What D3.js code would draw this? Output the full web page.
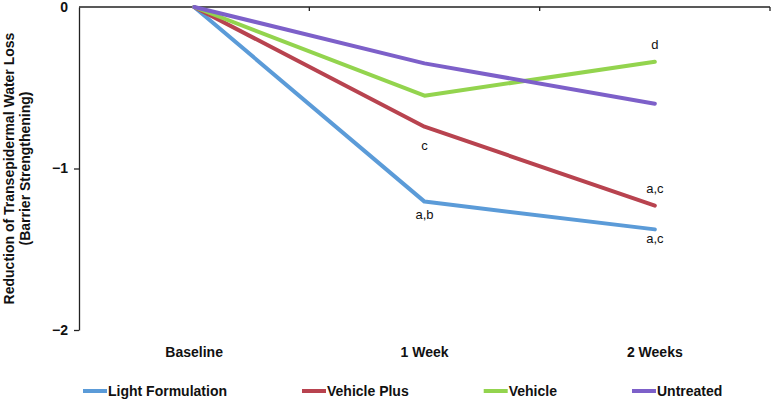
<!DOCTYPE html>
<html>
<head>
<meta charset="utf-8">
<script src="https://cdn.jsdelivr.net/npm/d3@7"></script>
<style>
  html, body { margin: 0; padding: 0; background: #fff; }
  svg { display: block; font-family: "Liberation Sans", Arial, Helvetica, sans-serif; }
</style>
</head>
<body>
<svg id="chart" width="772" height="402"></svg>
<script>
const categories = ["Baseline", "1 Week", "2 Weeks"];
const seriesNames = ["Light Formulation", "Vehicle Plus", "Vehicle", "Untreated"];
const lightFormulation = [0, -1.205, -1.377];
const vehiclePlus = [0, -0.741, -1.230];
const vehicle = [0, -0.549, -0.339];
const untreated = [0, -0.349, -0.599];
const seriesColors = ["#5b9bd8", "#b8434f", "#93d44e", "#7d60c9"];
const yTicks = [0, -1, -2];
const annotations = [
  { cat: "1 Week", value: -1.205, text: "a,b" },
  { cat: "1 Week", value: -0.741, text: "c" },
  { cat: "2 Weeks", value: -0.339, text: "d" },
  { cat: "2 Weeks", value: -1.230, text: "a,c" },
  { cat: "2 Weeks", value: -1.377, text: "a,c" }
];
const annotationOffsets = [17, 23, -13, -13, 14];

const seriesValues = [lightFormulation, vehiclePlus, vehicle, untreated];

const svg = d3.select("#chart");
const mLeft = 79, mRight = 770, mTop = 7, mBottom = 330;

const x = d3.scalePoint().domain(categories).range([mLeft, mRight]).padding(0.5);
const xBand = d3.scaleBand().domain(categories).range([mLeft, mRight]);
const y = d3.scaleLinear().domain([0, -2]).range([mTop, mBottom]);

// top category axis (at y = 0) with ticks at band edges
const axisG = svg.append("g").attr("stroke", "#222").attr("stroke-width", 1.3);
axisG.append("line").attr("x1", mLeft).attr("x2", mRight).attr("y1", y(0)).attr("y2", y(0));
axisG.selectAll("line.tick").data(categories).enter().append("line")
  .attr("class", "tick")
  .attr("x1", d => xBand(d) + xBand.bandwidth())
  .attr("x2", d => xBand(d) + xBand.bandwidth())
  .attr("y1", y(0)).attr("y2", y(0) + 4);

// left axis
const yAxis = d3.axisLeft(y).tickValues(yTicks).tickSize(5).tickSizeOuter(0).tickPadding(6)
  .tickFormat(d3.format("d"));
const yg = svg.append("g").attr("transform", `translate(${mLeft},0)`).call(yAxis);
yg.select(".domain").attr("stroke", "#222").attr("stroke-width", 1.3);
yg.selectAll(".tick line").attr("stroke", "#222").attr("stroke-width", 1.3)
  .attr("display", d => d === 0 ? "none" : null);
yg.selectAll(".tick text").attr("font-size", 14).attr("font-weight", "bold").attr("fill", "#111")
  .attr("font-family", "Liberation Sans, Arial, sans-serif");

// y-axis title
const title = svg.append("text")
  .attr("transform", `translate(14,${(mTop + mBottom) / 2}) rotate(-90)`)
  .attr("text-anchor", "middle").attr("font-size", 14).attr("font-weight", "bold").attr("fill", "#111");
title.append("tspan").attr("x", 0).attr("y", 0).text("Reduction of Transepidermal Water Loss");
title.append("tspan").attr("x", 0).attr("y", 16).text("(Barrier Strengthening)");

// category labels
svg.selectAll("text.cat").data(categories).enter().append("text")
  .attr("class", "cat")
  .attr("x", d => x(d)).attr("y", 357)
  .attr("text-anchor", "middle").attr("font-size", 14).attr("font-weight", "bold").attr("fill", "#111")
  .text(d => d);

// lines
const line = d3.line().x((d, i) => x(categories[i])).y(d => y(d));
svg.selectAll("path.series").data(seriesValues).enter().append("path")
  .attr("class", "series")
  .attr("d", d => line(d))
  .attr("fill", "none")
  .attr("stroke", (d, i) => seriesColors[i])
  .attr("stroke-width", 4)
  .attr("stroke-linejoin", "round")
  .attr("stroke-linecap", "round");

// annotations
svg.selectAll("text.ann").data(annotations).enter().append("text")
  .attr("class", "ann")
  .attr("x", d => x(d.cat))
  .attr("y", (d, i) => y(d.value) + annotationOffsets[i])
  .attr("text-anchor", "middle").attr("font-size", 13).attr("fill", "#111")
  .text(d => d.text);

// legend
const legend = svg.append("g");
let lx = 83;
const ly = 391;
seriesNames.forEach((name, i) => {
  const g = legend.append("g");
  g.append("line").attr("x1", lx).attr("x2", lx + 24).attr("y1", ly).attr("y2", ly)
    .attr("stroke", seriesColors[i]).attr("stroke-width", 4);
  const t = g.append("text").attr("x", lx + 25).attr("y", ly + 5)
    .attr("font-size", 14).attr("font-weight", "bold").attr("fill", "#111").text(name);
  const w = t.node().getComputedTextLength();
  lx = lx + 25 + w + 75;
});
</script>
</body>
</html>
